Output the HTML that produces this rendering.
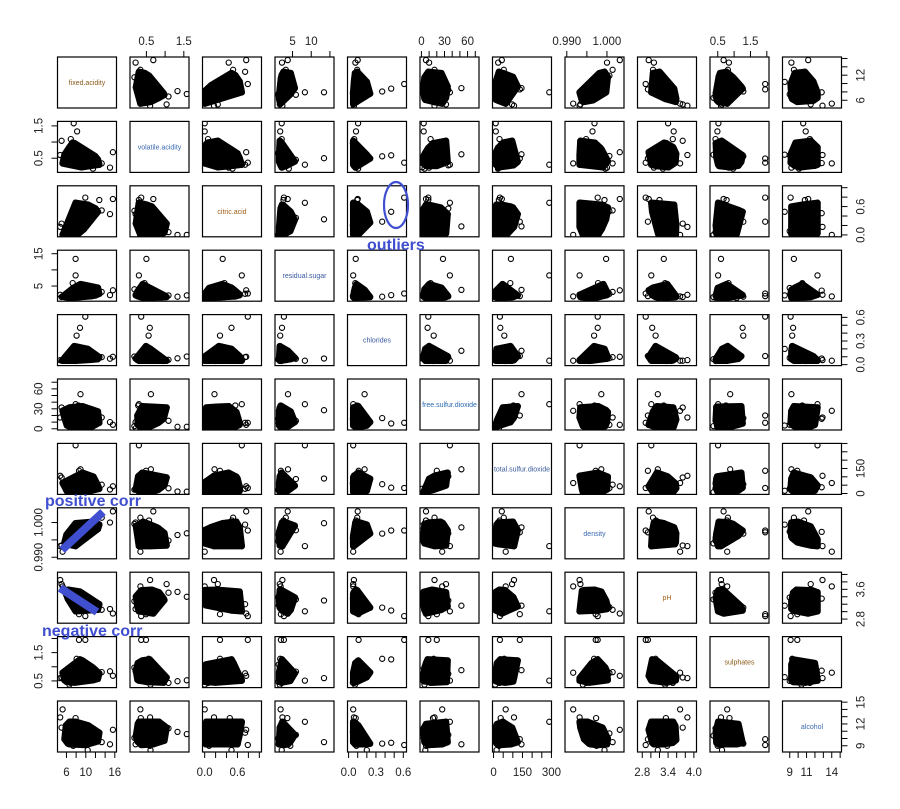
<!DOCTYPE html>
<html><head><meta charset="utf-8"><style>
html,body{margin:0;padding:0;background:#fff;}
svg{display:block;font-family:"Liberation Sans",Arial,sans-serif;}
</style></head><body>
<svg id="chart" width="900" height="809" viewBox="0 0 900 809"></svg>
<script>
const varNames=["fixed.acidity","volatile.acidity","citric.acid","residual.sugar","chlorides","free.sulfur.dioxide","total.sulfur.dioxide","density","pH","sulphates","alcohol"];
const domainMin=[4.6,0.12,0.0,0.9,0.012,1,6,0.9901,2.74,0.33,8.4];
const domainMax=[15.9,1.58,1.0,15.5,0.611,72,289,1.0037,4.01,2.0,14.9];
const tickValues=[[6,8,10,12,14,16],[0.5,1.0,1.5],[0,0.2,0.4,0.6,0.8,1.0],[5,10,15],[0,0.1,0.2,0.3,0.4,0.5,0.6],[0,10,20,30,40,50,60,70],[0,50,100,150,200,250,300],[0.990,0.995,1.000],[2.8,3.0,3.2,3.4,3.6,3.8,4.0],[0.5,1.0,1.5,2.0],[9,10,11,12,13,14,15]];
const tickLabelsA=[["6","10","16"],["0.5","1.5"],["0.0","0.6"],["5","10"],["0.0","0.3","0.6"],["0","30","60"],["0","150","300"],["0.990","1.000"],["2.8","3.4","4.0"],["0.5","1.5"],["9","11","14"]];
const tickLabelsB=[["6","12"],["0.5","1.5"],["0.0","0.6"],["5","15"],["0.0","0.3","0.6"],["0","30","60"],["0","150"],["0.990","1.000"],["2.8","3.6"],["0.5","1.5"],["9","12","15"]];
const labelColors=["#8a5a1a","#3a6ab0","#a0601a","#3a5aa0","#3a5aa0","#2a6ab0","#3a5a9a","#3a6ab0","#a0601a","#8a5a1a","#3a6ab0"];
const rows=[
[7.4,.70,.00,1.9,.076,11,34,.9978,3.51,.56,9.4],[7.8,.88,.00,2.6,.098,25,67,.9968,3.20,.68,9.8],[7.8,.76,.04,2.3,.092,15,54,.9970,3.26,.65,9.8],
[11.2,.28,.56,1.9,.075,17,60,.9980,3.16,.58,9.8],[7.9,.60,.06,1.6,.069,15,59,.9964,3.30,.46,9.4],[7.3,.65,.00,1.2,.065,15,21,.9946,3.39,.47,10.0],
[6.7,.58,.08,1.8,.097,15,65,.9959,3.28,.54,9.2],[5.6,.615,.00,1.6,.089,16,59,.9943,3.58,.52,9.9],[8.9,.62,.18,3.8,.176,52,145,.9986,3.16,.88,9.2],
[8.5,.28,.56,1.8,.092,35,103,.9969,3.30,.75,10.5],[8.1,.56,.28,1.7,.368,16,56,.9968,3.11,1.28,9.3],[7.4,.59,.08,4.4,.086,6,29,.9974,3.38,.50,9.0],
[6.9,.40,.14,2.4,.085,21,40,.9968,3.43,.63,9.7],[6.3,.39,.16,1.4,.080,11,23,.9955,3.34,.56,9.3],[7.6,.41,.24,1.8,.080,4,11,.9962,3.28,.59,9.5],
[9.9,.32,.56,2.0,.073,3,8,.9968,3.15,.73,11.4],[10.2,.42,.57,3.4,.070,4,10,.9971,3.04,.63,9.6],[12.8,.30,.74,2.6,.095,9,28,.9994,3.20,.77,10.8],
[5.2,.34,.00,1.8,.050,27,63,.9916,3.68,.79,14.0],[6.0,.50,.04,2.2,.092,13,26,.9965,3.46,.47,10.0],[7.2,.52,.07,1.4,.074,5,20,.9973,3.32,.81,9.6],
[8.6,.49,.28,1.9,.110,20,136,.9972,2.93,1.95,9.9],[9.2,.43,.52,2.3,.083,14,23,.9976,3.35,.61,11.3],[6.8,.67,.02,1.8,.050,5,11,.9962,3.48,.52,9.5],
[11.5,.18,.51,4.0,.104,4,23,.9996,3.28,.97,10.1],[8.2,.70,.23,2.0,.099,14,81,.9973,3.19,.70,9.4],[7.0,.62,.10,1.4,.071,27,63,.9960,3.28,.61,9.2],
[10.4,.61,.49,2.1,.200,5,16,.9994,3.16,.63,8.4],[6.4,.57,.02,1.8,.067,4,11,.9970,3.46,.68,9.5],[9.0,.82,.14,2.6,.089,9,23,.9984,3.39,.63,9.8],
[7.7,.96,.20,2.0,.047,15,60,.9955,3.36,.44,10.9],[8.3,.42,.38,2.5,.094,24,60,.9979,3.31,.70,10.8],[5.9,.61,.08,2.1,.071,16,24,.9938,3.56,.60,11.8],
[6.6,.84,.03,2.3,.059,32,48,.9952,3.52,.56,12.3],[7.1,.48,.28,2.8,.068,6,16,.9968,3.24,.53,9.3],[13.3,.34,.52,3.2,.094,17,53,1.0014,3.05,.81,9.5],
[15.0,.21,.44,2.2,.075,10,24,1.0000,3.07,.84,9.2],[8.8,.41,.64,2.2,.093,9,42,.9986,3.54,.66,10.5],[7.5,.52,.11,1.5,.079,11,39,.9968,3.42,.58,9.6],
[6.2,.36,.24,2.2,.095,19,42,.9946,3.57,.57,11.7],[9.3,.39,.44,2.1,.107,34,125,.9978,3.14,1.22,9.5],[10.7,.35,.53,2.6,.070,5,16,.9972,3.15,.65,11.0],
[7.8,.50,.17,1.6,.082,21,102,.9960,3.39,.48,9.5],[6.9,1.09,.06,2.1,.061,12,31,.9948,3.51,.43,11.4],[8.0,.33,.53,2.5,.091,18,80,.9976,3.37,.80,9.6],
[12.0,.38,.56,2.1,.093,6,24,.9993,3.14,.71,10.9],[7.3,.45,.36,5.9,.074,12,87,.9978,3.33,.83,10.5],[8.4,.65,.60,2.1,.112,12,90,.9973,3.20,.52,9.2],
[5.0,1.04,.24,1.6,.050,32,96,.9934,3.74,.62,11.5],[9.8,.66,.39,3.2,.083,21,59,.9989,3.37,.71,11.5],[7.0,.43,.36,1.6,.089,14,37,.9962,3.34,.78,9.6],
[10.0,.44,.49,2.7,.077,11,19,.9963,3.23,.63,11.6],[7.6,.68,.02,1.3,.072,9,20,.9965,3.17,1.08,9.2],[6.8,.47,.08,2.2,.064,18,38,.9955,3.30,.59,9.8],
[8.7,.54,.26,2.5,.097,7,31,.9976,3.27,.60,9.3],[11.6,.41,.58,2.8,.096,25,101,1.0002,3.13,.53,10.0],[7.2,.38,.31,2.0,.056,15,29,.9947,3.23,.76,11.3],
[6.4,.64,.21,1.8,.081,14,31,.9969,3.59,.66,9.8],[9.4,.27,.53,2.4,.074,6,18,.9962,3.20,1.13,12.0],[8.0,.58,.16,2.0,.120,3,7,.9945,3.22,.58,11.2],
[7.9,.35,.46,3.6,.078,15,37,.9973,3.35,.86,12.8],[8.9,.40,.32,5.6,.087,10,47,.9991,3.38,.77,10.5],[6.1,.59,.01,2.1,.056,5,13,.9947,3.52,.56,11.4],
[7.7,.69,.22,1.9,.084,18,94,.9961,3.31,.48,9.5],[10.8,.26,.45,3.3,.060,20,49,.9972,3.13,.54,9.6],[8.2,1.33,.00,1.7,.081,3,12,.9964,3.53,.49,10.9],
[7.3,.98,.05,2.1,.061,20,49,.9970,3.31,.55,9.7],[9.6,.77,.12,2.9,.082,30,74,.9987,3.30,.64,10.4],[7.0,.54,.09,2.0,.081,10,16,.9948,3.43,.59,11.5],
[8.5,.46,.31,2.25,.078,32,58,.9980,3.33,.54,9.8],[6.6,.61,.00,1.6,.069,4,8,.9940,3.33,.37,10.4],[11.9,.57,.50,2.6,.082,6,32,1.0006,3.12,.78,10.7],
[7.9,.50,.33,13.4,.078,28,90,.9998,3.30,.60,9.5],[8.8,.59,.49,2.2,.467,8,35,.9977,3.03,1.26,9.4],[9.9,.36,.79,2.7,.610,9,33,.9977,2.88,1.95,9.1],
[15.6,.685,.76,3.7,.100,6,43,1.0032,2.95,.68,11.2],[7.9,.30,.68,8.3,.050,37,289,.9932,3.01,.51,12.3],[4.7,.60,.17,2.3,.058,17,106,.9932,3.85,.60,12.9],
[12.5,.46,.49,4.5,.070,26,49,.9981,3.05,.57,9.6],[7.5,1.58,.00,2.1,.104,3,11,.9969,3.40,.52,10.6],[6.6,.52,.04,2.2,.069,8,15,.9956,3.40,.63,9.4],
[8.1,.53,.22,2.2,.078,33,89,.9968,3.26,.46,9.6],[9.1,.22,.24,2.1,.078,1,28,.9990,3.41,.87,10.3],[6.9,.55,.15,2.2,.076,19,40,.9961,3.41,.59,10.1],
[10.5,.51,.64,2.4,.107,6,15,.9973,3.09,.66,11.8],[7.6,.49,.26,1.6,.236,10,88,.9968,3.11,.80,9.3],[8.3,.65,.10,2.9,.089,17,40,.9980,3.29,.55,9.5]
];
const svg=document.getElementById('chart');
const NS='http://www.w3.org/2000/svg';
const P0X=57.5,PSX=72.5,PW=59,P0Y=57,PSY=64.4,PH=51;
function mk(t,a,parent){const e=document.createElementNS(NS,t);for(const k in a)e.setAttribute(k,a[k]);(parent||svg).appendChild(e);return e;}
function scale(v,k,len){const lo=domainMin[k],hi=domainMax[k],pad=(hi-lo)*0.04;return (v-(lo-pad))/((hi+pad)-(lo-pad))*len;}
function sx(v,k,col){return P0X+col*PSX+scale(v,k,PW);}
function sy(v,k,row){return P0Y+row*PSY+PH-scale(v,k,PH);}
function quant(arr,q){const s=arr.slice().sort((a,b)=>a-b);return s[Math.floor(q*(s.length-1))];}
function hull(pts){pts=pts.slice().sort((a,b)=>a[0]-b[0]||a[1]-b[1]);const cr=(o,a,b)=>(a[0]-o[0])*(b[1]-o[1])-(a[1]-o[1])*(b[0]-o[0]);
  const lo=[];for(const p of pts){while(lo.length>=2&&cr(lo[lo.length-2],lo[lo.length-1],p)<=0)lo.pop();lo.push(p);}
  const up=[];for(let i=pts.length-1;i>=0;i--){const p=pts[i];while(up.length>=2&&cr(up[up.length-2],up[up.length-1],p)<=0)up.pop();up.push(p);}
  up.pop();lo.pop();return lo.concat(up);}
const n=varNames.length;
const qlo=[],qhi=[];
for(let k=0;k<n;k++){const col=rows.map(r=>r[k]);qlo.push(quant(col,0.03));qhi.push(quant(col,0.97));}
for(let i=0;i<n;i++){for(let j=0;j<n;j++){
  const x0=P0X+j*PSX,y0=P0Y+i*PSY;
  const g=mk('g',{});
  
  
  if(i===j){
    const t=mk('text',{x:x0+PW/2,y:y0+PH/2+2.5,'text-anchor':'middle','font-size':'7',fill:labelColors[i]},g);
    t.textContent=varNames[i];
    
    
  } else {
    const cp=mk('clipPath',{id:'c'+i+'_'+j},g);
    mk('rect',{x:x0,y:y0,width:PW,height:PH},cp);
    const pg=mk('g',{'clip-path':'url(#c'+i+'_'+j+')'},g);
    const core=rows.filter(r=>r[j]>=qlo[j]&&r[j]<=qhi[j]&&r[i]>=qlo[i]&&r[i]<=qhi[i]).map(r=>[sx(r[j],j,j),sy(r[i],i,i)]);
    if(core.length>=3){
      const h=hull(core);
      const poly=mk('polygon',{points:h.map(p=>p[0].toFixed(1)+','+p[1].toFixed(1)).join(' '),fill:'#000',stroke:'#000','stroke-width':6.5,'stroke-linejoin':'round'},pg);
      
      
    }
    rows.forEach(r=>{
      const c=mk('circle',{cx:sx(r[j],j,j).toFixed(1),cy:sy(r[i],i,i).toFixed(1),r:2.6,fill:'none',stroke:'#000','stroke-width':1.1},pg);
      
      
    });
  }
  const b=mk('rect',{x:x0,y:y0,width:PW,height:PH,fill:'none',stroke:'#000','stroke-width':1.2},g);
  
  
}}
function hAxis(k,top){
  const yb=top?P0Y:P0Y+(n-1)*PSY+PH;const d=top?-6:6;
  const g=mk('g',{});
  
  
  const ts=tickValues[k].filter(v=>{const p=scale(v,k,PW);return p>=-0.5&&p<=PW+0.5;});
  const xs=ts.map(v=>sx(v,k,k));
  mk('line',{x1:xs[0],x2:xs[xs.length-1],y1:yb,y2:yb,stroke:'#000'},g);
  xs.forEach(x=>mk('line',{x1:x,x2:x,y1:yb,y2:yb+d,stroke:'#000'},g));
  tickLabelsA[k].forEach(l=>{const t=mk('text',{x:sx(parseFloat(l),k,k),y:top?yb-12:yb+24,'text-anchor':'middle','font-size':'11.5',fill:'#222'},g);t.textContent=l;});
}
function vAxis(k,left){
  const xb=left?P0X:P0X+(n-1)*PSX+PW;const d=left?-6:6;
  const g=mk('g',{});
  
  
  const ts=tickValues[k].filter(v=>{const p=scale(v,k,PH);return p>=-0.5&&p<=PH+0.5;});
  const ys=ts.map(v=>sy(v,k,k));
  mk('line',{x1:xb,x2:xb,y1:ys[0],y2:ys[ys.length-1],stroke:'#000'},g);
  ys.forEach(y=>mk('line',{x1:xb,x2:xb+d,y1:y,y2:y,stroke:'#000'},g));
  tickLabelsB[k].forEach(l=>{const y=sy(parseFloat(l),k,k);const x=left?xb-19:xb+19;
    const t=mk('text',{x:x,y:y,'text-anchor':'middle','font-size':'11.5',fill:'#222',transform:'rotate(-90 '+x+' '+y+')',dy:'4'},g);t.textContent=l;});
}
for(let k=0;k<n;k++){ if(k%2===1){hAxis(k,true);vAxis(k,true);} else {hAxis(k,false);vAxis(k,false);} }
const ann=mk('g',{});


const e1=mk('ellipse',{cx:396,cy:205,rx:12,ry:23,fill:'none',stroke:'#3f4fd0','stroke-width':2.2},ann);

const t1=mk('text',{x:367,y:250,'font-size':'16','font-weight':'bold',fill:'#3f4fd0'},ann);t1.textContent='outliers';

const l1=mk('line',{x1:62,y1:550,x2:103,y2:512,stroke:'#3f4fd0','stroke-width':8},ann);

const t2=mk('text',{x:45,y:506,'font-size':'16','font-weight':'bold',fill:'#3f4fd0'},ann);t2.textContent='positive corr';

const l2=mk('line',{x1:60,y1:588,x2:97,y2:612,stroke:'#3f4fd0','stroke-width':8},ann);

const t3=mk('text',{x:42,y:636,'font-size':'16','font-weight':'bold',fill:'#3f4fd0'},ann);t3.textContent='negative corr';

</script>
</body></html>
